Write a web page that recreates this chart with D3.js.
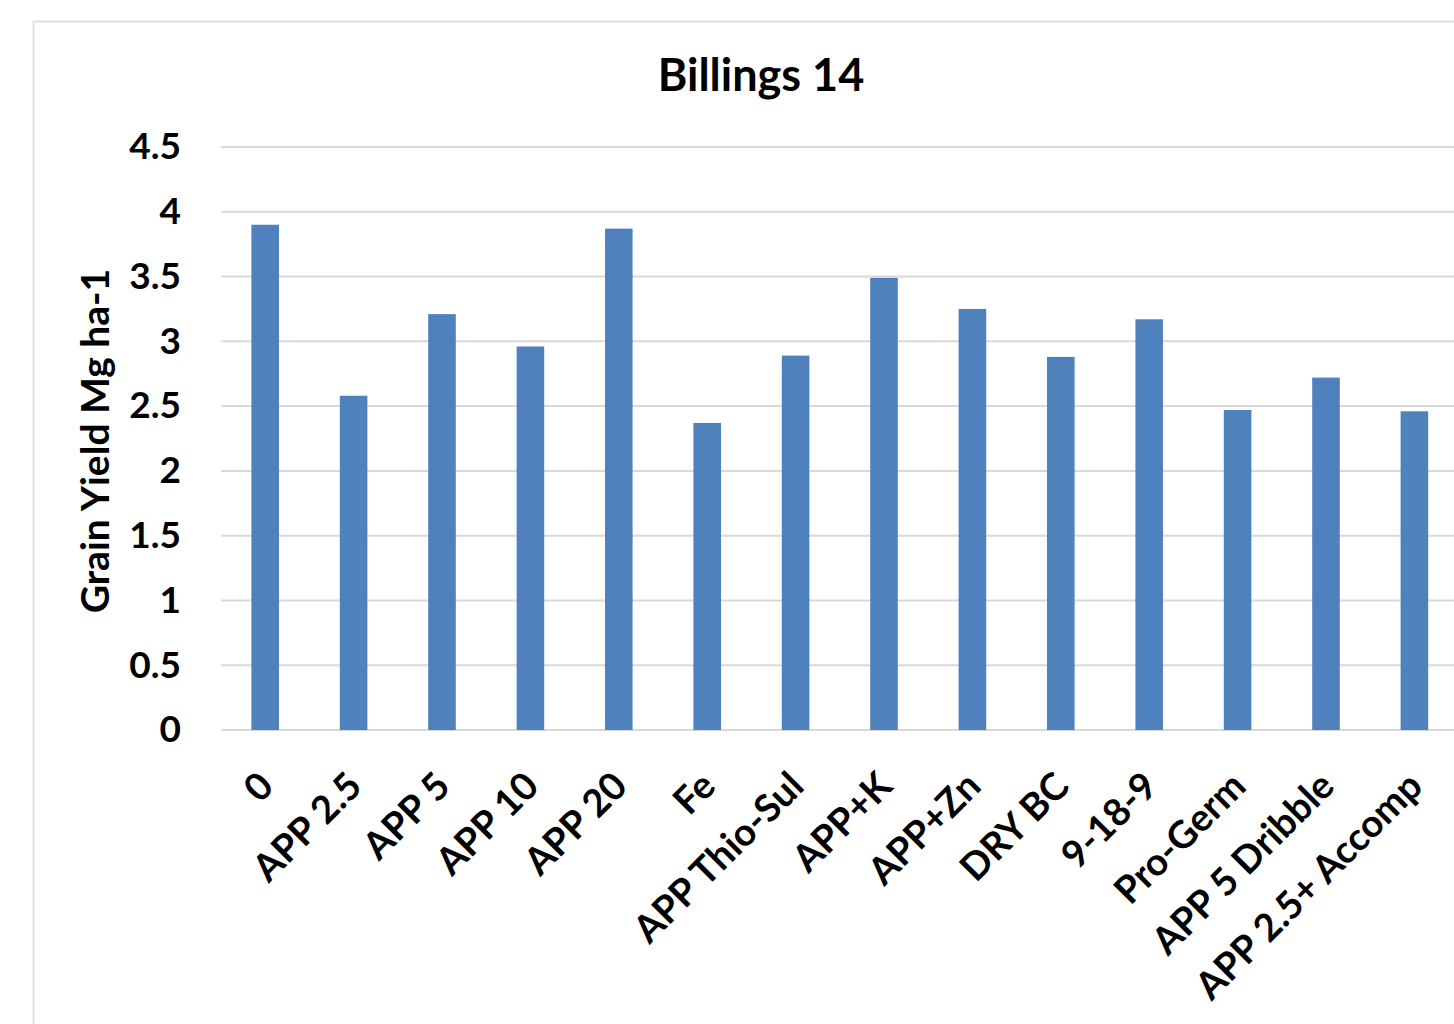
<!DOCTYPE html>
<html>
<head>
<meta charset="utf-8">
<script src="https://cdn.jsdelivr.net/npm/d3@7"></script>
<style>
  html, body { margin: 0; padding: 0; background: #ffffff; }
  svg { display: block; }
  text { font-family: Lato, "Open Sans", sans-serif; font-weight: 700; fill: #000; }
</style>
</head>
<body>
<svg id="chart" width="1454" height="1024"></svg>
<script>
// Treatments along the x axis
const categories = [
  "0", "APP 2.5", "APP 5", "APP 10", "APP 20", "Fe", "APP Thio-Sul",
  "APP+K", "APP+Zn", "DRY BC", "9-18-9", "Pro-Germ", "APP 5 Dribble", "APP 2.5+ Accomp"
];
// Grain yield, Mg ha-1
const yieldValues = [3.90, 2.58, 3.21, 2.96, 3.87, 2.37, 2.89, 3.49, 3.25, 2.88, 3.17, 2.47, 2.72, 2.46];
// Value-axis ticks and their labels
const yTicks = [0, 0.5, 1, 1.5, 2, 2.5, 3, 3.5, 4, 4.5];
const yTickLabels = ["0", "0.5", "1", "1.5", "2", "2.5", "3", "3.5", "4", "4.5"];
const chartTitle = "Billings 14";
const yAxisTitle = "Grain Yield Mg ha-1";

const svg = d3.select("#chart");

// Chart frame
svg.append("rect")
  .attr("x", 33.5).attr("y", 21.5)
  .attr("width", 1500).attr("height", 1100)
  .attr("fill", "#ffffff")
  .attr("stroke", "#d9d9d9")
  .attr("stroke-width", 1.5);

const plot = { left: 221, right: 1458.6, top: 147, bottom: 730 };

const x = d3.scaleBand()
  .domain(categories)
  .range([plot.left, plot.right])
  .paddingInner(0.688)
  .paddingOuter(0.344);

const y = d3.scaleLinear()
  .domain([0, 4.5])
  .range([plot.bottom, plot.top]);

// Horizontal gridlines
svg.append("g")
  .selectAll("line")
  .data(yTicks)
  .join("line")
  .attr("x1", plot.left).attr("x2", 1500)
  .attr("y1", d => y(d)).attr("y2", d => y(d))
  .attr("stroke", "#d9d9d9")
  .attr("stroke-width", 2);

// Bars
svg.append("g")
  .selectAll("rect")
  .data(categories.map((c, i) => ({ c, v: yieldValues[i] })))
  .join("rect")
  .attr("x", d => x(d.c))
  .attr("width", x.bandwidth())
  .attr("y", d => y(d.v))
  .attr("height", d => y(0) - y(d.v))
  .attr("fill", "#4f81bd");

// Value axis labels
const yAxis = d3.axisLeft(y)
  .tickValues(yTicks)
  .tickFormat((d, i) => yTickLabels[i])
  .tickSize(0)
  .tickPadding(40);
const yg = svg.append("g")
  .attr("transform", `translate(${plot.left},0)`)
  .call(yAxis);
yg.select(".domain").remove();
yg.selectAll("text")
  .style("font-family", "Lato, sans-serif")
  .style("font-weight", 700)
  .style("font-size", "37px")
  .attr("fill", "#000");

// Category labels, rotated
const xAxis = d3.axisBottom(x).tickSize(0).tickPadding(0);
const xg = svg.append("g")
  .attr("transform", `translate(0,${plot.bottom})`)
  .call(xAxis);
xg.select(".domain").remove();
xg.selectAll(".tick text")
  .style("font-family", "Lato, sans-serif")
  .style("font-weight", 700)
  .style("font-size", "38px")
  .attr("fill", "#000")
  .attr("text-anchor", "end")
  .attr("x", 0).attr("y", 0).attr("dy", "0.35em")
  .attr("transform", "translate(1,49) rotate(-45)");

// Title
svg.append("text")
  .attr("x", 761).attr("y", 91)
  .attr("text-anchor", "middle")
  .style("font-size", "45px")
  .text(chartTitle);

// Value axis title
svg.append("text")
  .attr("transform", "translate(109,441) rotate(-90)")
  .attr("text-anchor", "middle")
  .style("font-size", "39px")
  .text(yAxisTitle);
</script>
</body>
</html>
